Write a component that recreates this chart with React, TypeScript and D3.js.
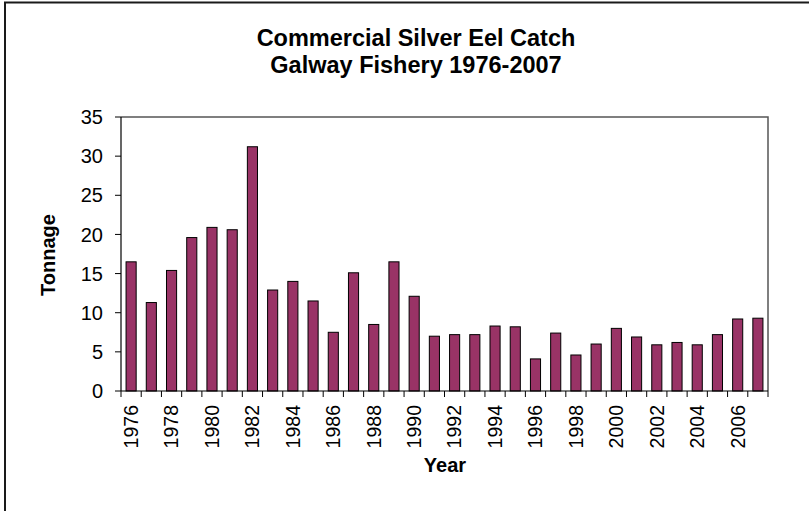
import React, { useEffect, useRef } from "react";
import * as d3 from "d3";

const years: number[] = d3.range(1976, 2008);
const tonnage: number[] = [
  16.5, 11.3, 15.4, 19.6, 20.9, 20.6, 31.2, 12.9, 14.0, 11.5,
  7.5, 15.1, 8.5, 16.5, 12.1, 7.0, 7.2, 7.2, 8.3, 8.2,
  4.1, 7.4, 4.6, 6.0, 8.0, 6.9, 5.9, 6.2, 5.9, 7.2,
  9.2, 9.3,
];
const yTicks: number[] = [0, 5, 10, 15, 20, 25, 30, 35];
const titleLines: string[] = ["Commercial Silver Eel Catch", "Galway Fishery 1976-2007"];

const W = 809;
const H = 511;
const M = { left: 121, right: 768, top: 117, bottom: 391 };
const FONT = "'Liberation Sans', Arial, Helvetica, sans-serif";

export default function App() {
  const ref = useRef<SVGSVGElement>(null);

  useEffect(() => {
    const svg = d3.select(ref.current);
    svg.selectAll("*").remove();

    const x = d3.scaleBand<number>().domain(years).range([M.left, M.right]).paddingInner(0.5).paddingOuter(0.25);
    const y = d3.scaleLinear().domain([0, 35]).range([M.bottom, M.top]);

    // outer frame
    svg.append("rect").attr("x", 5).attr("y", 2.5).attr("width", 900).attr("height", 700)
      .attr("fill", "white").attr("stroke", "#1a1a1a").attr("stroke-width", 2);

    // title
    const t = svg.append("text").attr("text-anchor", "middle").attr("font-family", FONT)
      .attr("font-weight", "bold").attr("font-size", 23.5).attr("fill", "#000");
    titleLines.forEach((s, i) => {
      t.append("tspan").attr("x", 416).attr("y", 46 + i * 27).text(s);
    });

    // plot border (top, right)
    svg.append("path")
      .attr("d", `M${M.left},${M.top}H${M.right}V${M.bottom}`)
      .attr("fill", "none").attr("stroke", "#555").attr("stroke-width", 1.5);

    // bars
    svg.append("g").selectAll("rect").data(years).join("rect")
      .attr("x", (d) => x(d)!)
      .attr("y", (d, i) => y(tonnage[i]))
      .attr("width", x.bandwidth())
      .attr("height", (d, i) => y(0) - y(tonnage[i]))
      .attr("fill", "#993366").attr("stroke", "#000").attr("stroke-width", 1);

    // y axis
    const ya = svg.append("g");
    ya.append("line").attr("x1", M.left).attr("x2", M.left).attr("y1", M.top).attr("y2", M.bottom)
      .attr("stroke", "#000").attr("stroke-width", 1.2);
    ya.selectAll("line.t").data(yTicks).join("line").attr("class", "t")
      .attr("x1", M.left - 6).attr("x2", M.left).attr("y1", (d) => y(d)).attr("y2", (d) => y(d))
      .attr("stroke", "#000");
    ya.selectAll("text").data(yTicks).join("text")
      .attr("x", 103).attr("y", (d) => y(d)).attr("dy", "0.36em")
      .attr("text-anchor", "end").attr("font-family", FONT).attr("font-size", 20).text((d) => d);

    // x axis
    const xa = svg.append("g");
    xa.append("line").attr("x1", M.left).attr("x2", M.right).attr("y1", M.bottom).attr("y2", M.bottom)
      .attr("stroke", "#000").attr("stroke-width", 1.2);
    const step = x.step();
    const bounds = d3.range(years.length + 1).map((i) => M.left + i * step);
    xa.selectAll("line.t").data(bounds).join("line").attr("class", "t")
      .attr("x1", (d) => d).attr("x2", (d) => d).attr("y1", M.bottom).attr("y2", M.bottom + 6)
      .attr("stroke", "#000");
    xa.selectAll("text").data(years.filter((d) => (d - 1976) % 2 === 0)).join("text")
      .attr("transform", (d) => `translate(${x(d)! + x.bandwidth() / 2},${M.bottom + 14}) rotate(-90)`)
      .attr("dy", "0.35em").attr("text-anchor", "end").attr("font-family", FONT).attr("font-size", 19.5)
      .text((d) => d);

    // axis titles
    svg.append("text").attr("x", 445).attr("y", 472).attr("text-anchor", "middle")
      .attr("font-family", FONT).attr("font-weight", "bold").attr("font-size", 20).text("Year");
    svg.append("text").attr("transform", "translate(55,255) rotate(-90)").attr("text-anchor", "middle")
      .attr("font-family", FONT).attr("font-weight", "bold").attr("font-size", 20).text("Tonnage");
  }, []);

  return (
    <svg ref={ref} width={W} height={H} style={{ position: "absolute", left: 0, top: 0, background: "white" }} />
  );
}
